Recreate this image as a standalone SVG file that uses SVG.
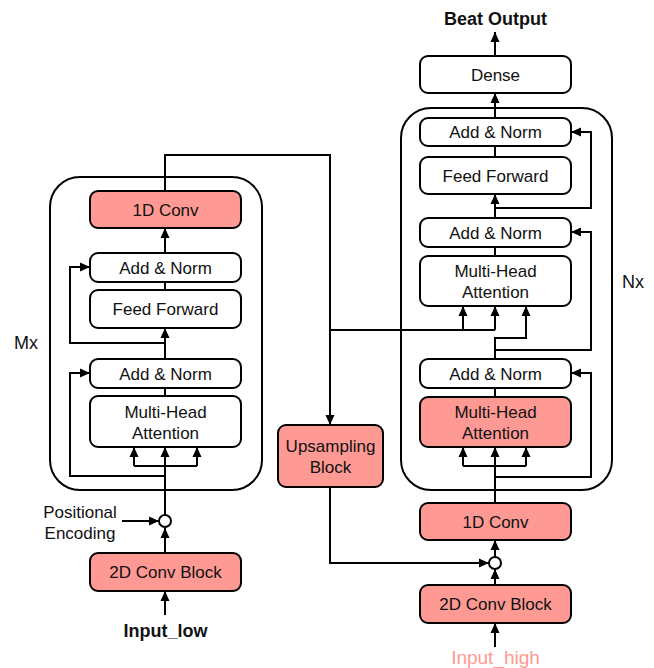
<svg xmlns="http://www.w3.org/2000/svg" width="654" height="668" viewBox="0 0 654 668">
<style>
.box{fill:#ffffff;stroke:#000000;stroke-width:2}
.pink{fill:#FF9994;stroke:#000000;stroke-width:2}
.cont{fill:none;stroke:#000000;stroke-width:2}
.lbl{font-family:"Liberation Sans",Arial,Helvetica,sans-serif;font-size:17px;fill:#111111;text-anchor:middle}
.bold{font-weight:bold;font-size:18px}
.big{font-size:18px}
.conn path{fill:none;stroke:#000000;stroke-width:2}
.conn path.a{marker-end:url(#arr)}
</style>
<defs>
<marker id="arr" markerUnits="userSpaceOnUse" markerWidth="10" markerHeight="10" refX="10" refY="5" orient="auto">
<path d="M0,0.5 L10,5 L0,9.5 z" fill="#000000"/>
</marker>
</defs>
<rect width="654" height="668" fill="#ffffff"/>

<g id="container_left"><rect class="cont" x="50" y="177" width="212" height="313" rx="30"/></g>
<g id="container_right"><rect class="cont" x="401" y="108" width="211" height="382" rx="30"/></g>

<g class="conn" id="connectors">
<!-- left stack -->
<path class="a" d="M165 615 V591"/>
<path class="a" d="M165 553 V528"/>
<path class="a" d="M122 521 H159"/>
<path class="a" d="M165 515 V447"/>
<path d="M134 466 H197"/>
<path class="a" d="M134 466 V447"/>
<path class="a" d="M197 466 V447"/>
<path class="a" d="M165 476 H70 V373 H90"/>
<path d="M165 396 V388"/>
<path class="a" d="M165 359 V328"/>
<path class="a" d="M165 343 H70 V267 H90"/>
<path d="M165 290 V282"/>
<path class="a" d="M165 253 V228"/>
<path class="a" d="M165 191 V155 H330 V425"/>
<path d="M330 330 H495"/>
<path class="a" d="M463 330 V306"/>
<path class="a" d="M495 330 V306"/>
<path class="a" d="M330 487 V563 H489"/>
<!-- right stack -->
<path class="a" d="M495 647 V623"/>
<path class="a" d="M495 585 V569"/>
<path class="a" d="M495 557 V540"/>
<path class="a" d="M495 503 V447"/>
<path d="M463 466 H526"/>
<path class="a" d="M463 466 V447"/>
<path class="a" d="M526 466 V447"/>
<path class="a" d="M495 477 H591 V373 H571"/>
<path d="M495 397 V388"/>
<path class="a" d="M495 359 V338 H526 V306"/>
<path class="a" d="M495 350 H591 V232 H571"/>
<path d="M495 256 V247"/>
<path class="a" d="M495 218 V194"/>
<path class="a" d="M495 208 H591 V132 H571"/>
<path d="M495 157 V146"/>
<path class="a" d="M495 118 V93"/>
<path class="a" d="M495 56 V32"/>
</g>

<g id="conv1d_left"><rect class="pink" x="90" y="191" width="151" height="37" rx="8"/><text class="lbl" x="165.5" y="215.5">1D Conv</text></g>
<g id="addnorm_left_2"><rect class="box" x="90" y="253" width="151" height="29" rx="8"/><text class="lbl" x="165.5" y="273.5">Add &amp; Norm</text></g>
<g id="ff_left"><rect class="box" x="90" y="290" width="151" height="38" rx="8"/><text class="lbl" x="165.5" y="315">Feed Forward</text></g>
<g id="addnorm_left_1"><rect class="box" x="90" y="359" width="151" height="29" rx="8"/><text class="lbl" x="165.5" y="379.5">Add &amp; Norm</text></g>
<g id="mha_left"><rect class="box" x="90" y="396" width="151" height="51" rx="8"/><text class="lbl" x="165.5" y="418">Multi-Head</text><text class="lbl" x="165.5" y="439">Attention</text></g>
<g id="pos_enc_left"><circle cx="165" cy="521" r="6" fill="#ffffff" stroke="#000000" stroke-width="2"/></g>
<g id="pos_label"><text class="lbl" x="80" y="518">Positional</text><text class="lbl" x="80" y="539">Encoding</text></g>
<g id="conv2d_left"><rect class="pink" x="90" y="553" width="151" height="38" rx="8"/><text class="lbl" x="165.5" y="578">2D Conv Block</text></g>
<g id="input_low"><text class="lbl bold" x="165.5" y="637">Input_low</text></g>
<g id="mx"><text class="lbl big" x="26" y="349">Mx</text></g>

<g id="upsampling"><rect class="pink" x="278" y="425" width="105" height="62" rx="8"/><text class="lbl" x="330.5" y="452">Upsampling</text><text class="lbl" x="330.5" y="473">Block</text></g>

<g id="beat_output"><text class="lbl bold" x="495.5" y="25">Beat Output</text></g>
<g id="dense"><rect class="box" x="420" y="56" width="151" height="37" rx="8"/><text class="lbl" x="495.5" y="80.5">Dense</text></g>
<g id="addnorm_right_3"><rect class="box" x="420" y="118" width="151" height="28" rx="8"/><text class="lbl" x="495.5" y="138">Add &amp; Norm</text></g>
<g id="ff_right"><rect class="box" x="420" y="157" width="151" height="37" rx="8"/><text class="lbl" x="495.5" y="181.5">Feed Forward</text></g>
<g id="addnorm_right_2"><rect class="box" x="420" y="218" width="151" height="29" rx="8"/><text class="lbl" x="495.5" y="238.5">Add &amp; Norm</text></g>
<g id="mha_right_2"><rect class="box" x="420" y="256" width="151" height="50" rx="8"/><text class="lbl" x="495.5" y="277">Multi-Head</text><text class="lbl" x="495.5" y="298">Attention</text></g>
<g id="addnorm_right_1"><rect class="box" x="420" y="359" width="151" height="29" rx="8"/><text class="lbl" x="495.5" y="379.5">Add &amp; Norm</text></g>
<g id="mha_right_1"><rect class="pink" x="420" y="397" width="151" height="50" rx="8"/><text class="lbl" x="495.5" y="418">Multi-Head</text><text class="lbl" x="495.5" y="439">Attention</text></g>
<g id="conv1d_right"><rect class="pink" x="420" y="503" width="151" height="37" rx="8"/><text class="lbl" x="495.5" y="527.5">1D Conv</text></g>
<g id="merge_right"><circle cx="495" cy="563" r="6" fill="#ffffff" stroke="#000000" stroke-width="2"/></g>
<g id="conv2d_right"><rect class="pink" x="420" y="585" width="151" height="38" rx="8"/><text class="lbl" x="495.5" y="610">2D Conv Block</text></g>
<g id="input_high"><text class="lbl" x="495.5" y="664" style="fill:#FF9994;font-size:19px">Input_high</text></g>
<g id="nx"><text class="lbl big" x="633" y="288">Nx</text></g>
</svg>
